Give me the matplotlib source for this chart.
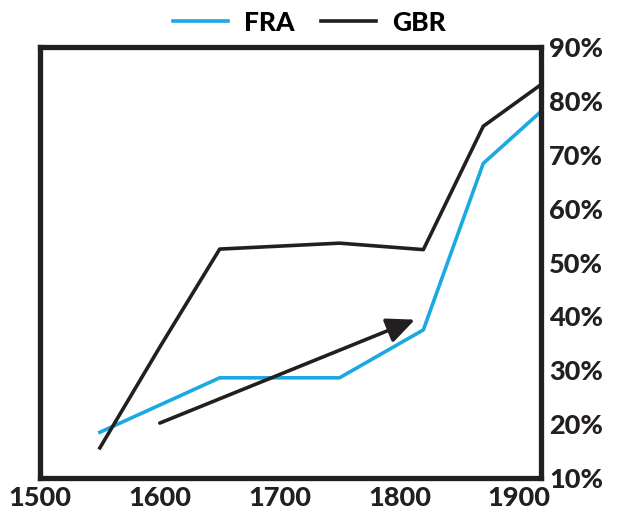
import matplotlib.pyplot as plt
from matplotlib.ticker import FuncFormatter

plt.rcParams['font.family'] = ['Lato', 'DejaVu Sans']

# share of population (%)
fra_years = [1550, 1650, 1750, 1820, 1870, 1918]
fra_vals = [18.5, 28.6, 28.6, 37.5, 68.4, 78.0]
gbr_years = [1550, 1600, 1650, 1750, 1820, 1870, 1918]
gbr_vals = [15.6, 34.3, 52.5, 53.6, 52.4, 75.3, 83.0]

arrow_start = (1600, 20.2)
arrow_end = (1813, 39.4)

fig = plt.figure(figsize=(6.19, 5.23), dpi=100)
ax = fig.add_axes([0.0646, 0.086, 0.809, 0.824])

blue = '#1BA9E1'
dark = '#231F20'
ax.plot(fra_years, fra_vals, color=blue, lw=2.6, label='FRA')
ax.plot(gbr_years, gbr_vals, color=dark, lw=2.6, label='GBR')

ax.annotate('', xy=arrow_end, xytext=arrow_start,
            arrowprops=dict(arrowstyle='-|>,head_length=1.0,head_width=0.45',
                            mutation_scale=17, color=dark, lw=2.6,
                            shrinkA=0, shrinkB=0))

ax.set_xlim(1500, 1918)
ax.set_ylim(10, 90)
ax.set_xticks([1500, 1600, 1700, 1800, 1900])
ax.set_yticks(range(10, 91, 10))
ax.yaxis.set_major_formatter(FuncFormatter(lambda v, p: f'{int(v)}%'))
ax.yaxis.tick_right()
ax.tick_params(length=0, labelsize=19.5, colors=dark, pad=6)
for lab in ax.get_xticklabels() + ax.get_yticklabels():
    lab.set_fontweight('black')

for s in ax.spines.values():
    s.set_linewidth(3.8)
    s.set_color(dark)

leg = fig.legend(loc='upper center', bbox_to_anchor=(0.5, 1.025), ncol=2, frameon=False,
                 prop={'size': 19, 'weight': 'black'}, handlelength=2.1, columnspacing=1.0,
                 handletextpad=0.6)

fig.savefig('out.png', dpi=100)
